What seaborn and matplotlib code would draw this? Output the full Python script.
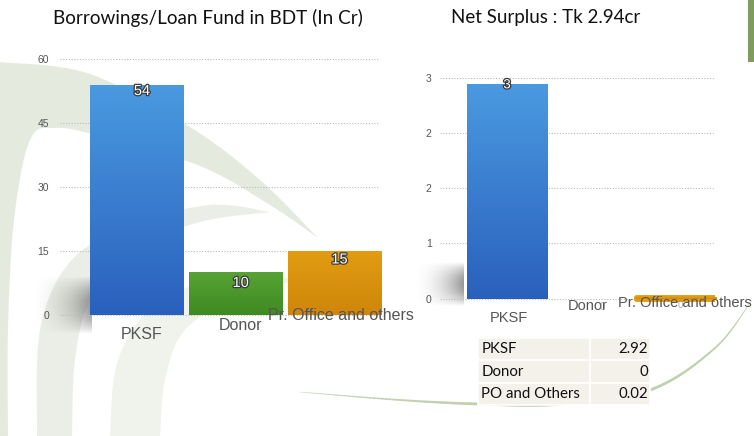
import numpy as np
import pandas as pd
import matplotlib
matplotlib.use("Agg")
import matplotlib.pyplot as plt
import matplotlib.patheffects as pe
from matplotlib.patches import Rectangle, Polygon
from matplotlib.colors import LinearSegmentedColormap
import seaborn as sns

# ---- data ----
categories = ["PKSF", "Donor", "Pr. Office and others"]
borrowings = [54, 10, 15]
surplus = [2.92, 0.0, 0.02]
surplus_labels = ["3", "0", "0"]
left_ticks = [0, 15, 30, 45, 60]
right_ticks = [0, 0.75, 1.5, 2.25, 3]
right_ticklabels = ["0", "1", "2", "2", "3"]
table_rows = ["PKSF", "Donor", "PO and Others"]
table_vals = ["2.92", "0", "0.02"]
title_left = "Borrowings/Loan Fund in BDT (In Cr)"
title_right = "Net Surplus : Tk 2.94cr"

bar_colors = ["#3479d0", "#4f9a2b", "#d98c0c"]
bar_grads = [("#4a9ae0", "#2a60bd"), ("#58a334", "#3f8a22"), ("#e29c12", "#cf860a")]

sns.set_theme(style="white")
plt.rcParams["font.family"] = ["Liberation Sans", "DejaVu Sans"]

W, H = 754, 436
fig = plt.figure(figsize=(W / 100, H / 100), dpi=100)
fig.patch.set_facecolor("white")

# ---- background decoration (slide watermark) ----
bg = fig.add_axes([0, 0, 1, 1], zorder=-10)
bg.set_xlim(0, W)
bg.set_ylim(H, 0)
bg.axis("off")


def spline(pts, n=200):
    pts = np.asarray(pts, float)
    out = []
    for i in range(len(pts) - 1):
        p0 = pts[max(i - 1, 0)]
        p1 = pts[i]
        p2 = pts[i + 1]
        p3 = pts[min(i + 2, len(pts) - 1)]
        for t in np.linspace(0, 1, n // len(pts), endpoint=False):
            t2, t3 = t * t, t * t * t
            out.append(0.5 * ((2 * p1) + (-p0 + p2) * t + (2 * p0 - 5 * p1 + 4 * p2 - p3) * t2
                              + (-p0 + 3 * p1 - 3 * p2 + p3) * t3))
    out.append(pts[-1])
    return np.array(out)


g1 = "#e5eadf"
g2 = "#ebeee6"
# top sweeping band + left strip
top_edge = spline([(0, 62), (90, 74), (190, 127), (260, 180), (318, 238)])
bot_edge = spline([(318, 238), (270, 205), (200, 166), (100, 136), (55, 128), (30, 140),
                   (14, 220), (8, 330), (8, 436)])
bg.add_patch(Polygon(np.vstack([top_edge, bot_edge, [(0, 436)]]), facecolor=g1, edgecolor="none"))
# middle band sweeping up from bottom-left
outer2 = spline([(37, 436), (40, 330), (70, 262), (130, 225), (210, 205), (270, 212)])
inner2 = spline([(270, 212), (200, 222), (130, 250), (90, 300), (75, 360), (72, 436)])
bg.add_patch(Polygon(np.vstack([outer2, inner2]), facecolor=g2, edgecolor="none"))
# inner lighter arc
outer3 = spline([(110, 436), (118, 360), (155, 305), (230, 275), (300, 280)])
inner3 = spline([(300, 280), (240, 295), (185, 330), (165, 380), (160, 436)])
bg.add_patch(Polygon(np.vstack([outer3, inner3]), facecolor="#f0f2ec", edgecolor="none"))
# thin green swoosh near table (tapered)
sw = spline([(300, 392), (400, 400), (480, 404), (560, 404), (650, 390), (715, 348), (752, 300)])
n = len(sw)
widths = 0.3 + 2.0 * np.sin(np.linspace(0, np.pi, n))
for i in range(n - 1):
    bg.plot(sw[i:i + 2, 0], sw[i:i + 2, 1], color="#bfd0ae", lw=widths[i],
            solid_capstyle="round", alpha=0.9)
# green marker at top-right corner
bg.add_patch(Rectangle((748, 0), 6, 62, facecolor="#7d9c5e", edgecolor="none"))
# soft floor shadows
xx = np.linspace(0, 1, 80)[None, :]
yy = np.linspace(0, 1, 60)[:, None]
soft = (xx ** 1.8) * np.sin(np.pi * yy) ** 0.8
shade_cmap = LinearSegmentedColormap.from_list(
    "sh", [(0.5, 0.5, 0.5, 0.0), (0.42, 0.42, 0.42, 0.7)])
bg.imshow(soft, extent=[30, 92, 334, 276], cmap=shade_cmap, aspect="auto", zorder=2,
          interpolation="bilinear")
bg.imshow(soft, extent=[414, 464, 306, 262], cmap=shade_cmap, aspect="auto", zorder=2,
          interpolation="bilinear")
bg.set_xlim(0, W)
bg.set_ylim(H, 0)


def px_axes(x0, x1, y_top, y_bot):
    return fig.add_axes([x0 / W, 1 - y_bot / H, (x1 - x0) / W, (y_bot - y_top) / H])


def style_axes(ax, ticks, ticklabels, pad):
    ax.set_facecolor("none")
    for s in ax.spines.values():
        s.set_visible(False)
    ax.set_yticks(ticks)
    ax.set_yticklabels(ticklabels)
    ax.tick_params(axis="y", length=0, labelsize=7.5, labelcolor="#555555", pad=pad)
    ax.set_xticks([])
    ax.set_xlabel("")
    ax.set_ylabel("")
    ax.yaxis.grid(True, linestyle=(0, (1, 1.5)), color="#bbbbbb", linewidth=0.8)
    ax.set_axisbelow(True)


def gradient_bars(ax, thin_edge=None):
    xl, yl = ax.get_xlim(), ax.get_ylim()
    for i, (p, (top, bot)) in enumerate(zip(ax.patches, bar_grads)):
        x0, y0 = p.get_x(), p.get_y()
        w, h = p.get_width(), p.get_height()
        if h == 0:
            p.set_visible(False)
            continue
        cmap = LinearSegmentedColormap.from_list("g", [bot, top])
        grad = np.linspace(0, 1, 128)[:, None]
        im = ax.imshow(grad, extent=[x0, x0 + w, y0, y0 + h], origin="lower",
                       cmap=cmap, aspect="auto", zorder=p.get_zorder() + 0.1)
        im.set_clip_path(p)
        p.set_facecolor("none")
        if thin_edge is not None and i == thin_edge:
            p.set_facecolor(top)
            p.set_edgecolor(top)
            p.set_linewidth(3.5)
            p.set_joinstyle("round")
        else:
            p.set_edgecolor("none")
    ax.set_xlim(xl)
    ax.set_ylim(yl)


outline = [pe.withStroke(linewidth=1.8, foreground="#3a3a3a")]

# ---- left chart ----
df1 = pd.DataFrame({"cat": categories, "val": borrowings})
ax1 = px_axes(60, 380, 50.5, 332)
sns.barplot(data=df1, x="cat", y="val", hue="cat", palette=bar_colors,
            legend=False, width=0.95, ax=ax1, saturation=1)
ax1.set_xlim(-0.78, 2.46)
ax1.set_ylim(-4, 62)
style_axes(ax1, left_ticks, [str(t) for t in left_ticks], pad=8)
gradient_bars(ax1)
label_pos = [(0, 52.5), (1, 7.5), (2, 13.0)]
for (x, y), v in zip(label_pos, borrowings):
    ax1.text(x + 0.05, y, str(v), ha="center", va="center", color="white",
             fontsize=10.5, path_effects=outline, zorder=5)
cat_offsets = [(5, -20), (5, -11), (6, -1)]
for i, (c, (dx, dy)) in enumerate(zip(categories, cat_offsets)):
    ax1.annotate(c, xy=(i, 0), xytext=(dx, dy), textcoords="offset pixels",
                 ha="center", va="center", fontsize=11.5, color="#555555",
                 annotation_clip=False, zorder=6)

# ---- right chart ----
df2 = pd.DataFrame({"cat": categories, "val": surplus})
ax2 = px_axes(440, 715, 70.6, 317)
sns.barplot(data=df2, x="cat", y="val", hue="cat", palette=bar_colors,
            legend=False, width=0.95, ax=ax2, saturation=1)
ax2.set_xlim(-0.79, 2.45)
ax2.set_ylim(-0.25, 3.1)
style_axes(ax2, right_ticks, right_ticklabels, pad=6)
gradient_bars(ax2, thin_edge=2)
ax2.text(0, 2.9, surplus_labels[0], ha="center", va="center", color="white",
         fontsize=9.5, path_effects=outline, zorder=5)
cat_offsets2 = [(2, -19), (-4, -7), (8, -4)]
for i, (c, (dx, dy)) in enumerate(zip(categories, cat_offsets2)):
    ax2.annotate(c, xy=(i, 0), xytext=(dx, dy), textcoords="offset pixels",
                 ha="center", va="center", fontsize=10.5, color="#555555",
                 annotation_clip=False, zorder=6)
for i, dx in [(1, 10), (2, 4)]:
    ax2.annotate(surplus_labels[i], xy=(i, surplus[i]), xytext=(dx, -8),
                 textcoords="offset pixels", ha="center", va="center",
                 fontsize=7, color="#888888", alpha=0.7, annotation_clip=False, zorder=7)

# ---- titles ----
fig.text(208 / W, 1 - 18 / H, title_left, ha="center", va="center",
         fontsize=13.6, color="#111111", family=["Lato", "DejaVu Sans"])
fig.text(546 / W, 1 - 18 / H, title_right, ha="center", va="center",
         fontsize=13.5, color="#111111", family=["Lato", "DejaVu Sans"])

# ---- table ----
tax = px_axes(478, 650, 338, 405)
tax.axis("off")
tbl = tax.table(cellText=[[r, v] for r, v in zip(table_rows, table_vals)],
                colWidths=[112 / 172, 60 / 172], bbox=[0, 0, 1, 1],
                cellLoc="left")
tbl.auto_set_font_size(False)
for (r, c), cell in tbl.get_celld().items():
    cell.set_facecolor("#f3f1ea")
    cell.set_edgecolor("white")
    cell.set_linewidth(1.2)
    cell.get_text().set_fontsize(10.8)
    cell.get_text().set_family(["Lato", "DejaVu Sans"])
    cell.get_text().set_color("#111111")
    if c == 1:
        cell.get_text().set_ha("right")
        cell._loc = "right"
    cell.PAD = 0.03

fig.savefig("out.png", dpi=100, facecolor="white")
